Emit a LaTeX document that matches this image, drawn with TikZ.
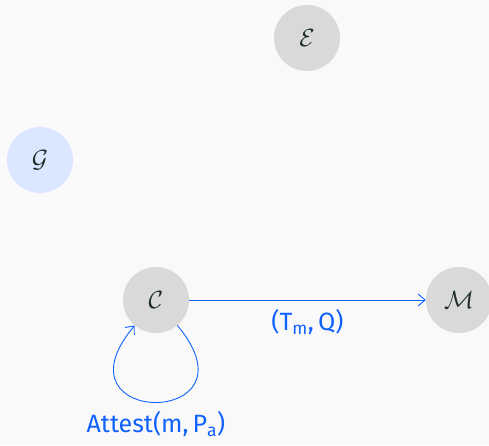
\documentclass[tikz,border=0pt]{standalone}
\usepackage{fontspec}
\setmainfont{Fira Sans}
\usetikzlibrary{arrows.meta}
\definecolor{bgcol}{HTML}{F9F9F9}
\definecolor{nodegray}{HTML}{D9D9D9}
\definecolor{nodeblue}{HTML}{DBE7FE}
\definecolor{linkblue}{HTML}{0F62FE}
\definecolor{inkdark}{HTML}{1F2D2D}
\tikzset{
  party/.style={circle,fill=nodegray,minimum size=66pt,inner sep=0pt,
    text=inkdark,font=\fontsize{23}{25}\selectfont},
  msg/.style={draw=linkblue,line width=0.9pt,-{Straight Barb[length=7pt,width=12pt]}},
  msglabel/.style={text=linkblue,font=\fontsize{25}{29}\selectfont}
}
\begin{document}
\begin{tikzpicture}[x=1pt,y=1pt]
  \fill[bgcol] (0,0) rectangle (489,445);
  \useasboundingbox (0,0) rectangle (489,445);
  \node[party] (E) at (307,407) {$\mathcal{E}$};
  \node[party,fill=nodeblue] (G) at (40,285) {$\mathcal{G}$};
  \node[party] (C) at (156,145) {$\mathcal{C}$};
  \node[party] (M) at (459,145) {$\mathcal{M}$};
  \draw[msg] (C) -- node[msglabel,below=6pt] (tq) {(T\textsubscript{m},\,Q)} (M);
  \draw[msg] (C.-50) .. controls +(-50:134) and +(-130:134) .. node[msglabel,below=5pt] (att) {Attest(m,\,P\textsubscript{a})} (C.-130);
\end{tikzpicture}
\end{document}
